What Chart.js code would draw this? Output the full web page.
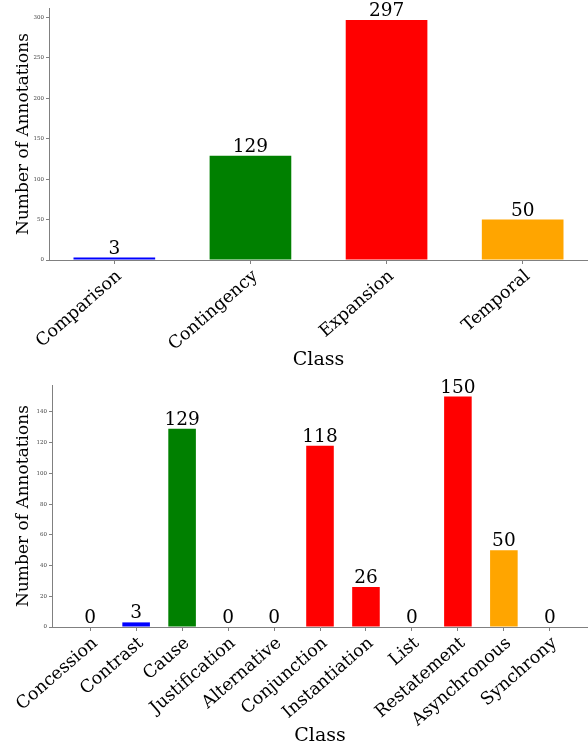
<!DOCTYPE html>
<html>
<head>
<meta charset="utf-8">
<script src="https://cdn.jsdelivr.net/npm/chart.js@4.4.0/dist/chart.umd.min.js"></script>
<style>
html, body { margin: 0; padding: 0; background: #fff; overflow: hidden; }
.box { position: relative; width: 588px; }
#top-box { height: 372px; }
#bottom-box { height: 375px; }
</style>
</head>
<body>
<div class="box" id="top-box"><canvas id="class-chart"></canvas></div>
<div class="box" id="bottom-box"><canvas id="sense-chart"></canvas></div>
<script>
// 上圖：四大類
var classLabels = ['Comparison', 'Contingency', 'Expansion', 'Temporal'];
var classCounts = [3, 129, 297, 50];
var classColors = ['#0000ff', '#008000', '#ff0000', '#ffa500'];
var classTicks = [0, 50, 100, 150, 200, 250, 300];

// 下圖：細分類
var senseLabels = ['Concession', 'Contrast', 'Cause', 'Justification', 'Alternative',
  'Conjunction', 'Instantiation', 'List', 'Restatement', 'Asynchronous', 'Synchrony'];
var senseCounts = [0, 3, 129, 0, 0, 118, 26, 0, 150, 50, 0];
var senseColors = ['#0000ff', '#0000ff', '#008000', '#008000', '#ff0000',
  '#ff0000', '#ff0000', '#ff0000', '#ff0000', '#ffa500', '#ffa500'];
var senseTicks = [0, 20, 40, 60, 80, 100, 120, 140];

var SERIF = '"DejaVu Serif", serif';
var AXIS_GREY = '#808080';

// 柱子上方的數字
var barValueLabels = {
  id: 'barValueLabels',
  afterDatasetsDraw: function (chart) {
    var ctx = chart.ctx;
    chart.data.datasets.forEach(function (ds, di) {
      var meta = chart.getDatasetMeta(di);
      meta.data.forEach(function (bar, i) {
        ctx.save();
        ctx.font = '18.5px ' + SERIF;
        ctx.fillStyle = '#000';
        ctx.textAlign = 'center';
        ctx.textBaseline = 'alphabetic';
        ctx.fillText(String(ds.data[i].y), bar.x, bar.y - 4);
        ctx.restore();
      });
    });
  }
};

function makeBarChart(canvasId, labels, counts, colors, yTicks, sizes) {
  var n = labels.length;
  var span = (n - 1) + 0.6;
  var xMin = -0.3 - 0.05 * span;
  var xMax = (n - 1) + 0.3 + 0.05 * span;
  var yMax = Math.max.apply(null, counts) * 1.05;

  var ctx = document.getElementById(canvasId).getContext('2d');
  return new Chart(ctx, {
    type: 'bar',
    data: {
      datasets: [{
        data: counts.map(function (v, i) { return { x: i, y: v }; }),
        backgroundColor: colors,
        borderWidth: 0,
        barPercentage: 0.6,
        categoryPercentage: 1.0
      }]
    },
    options: {
      responsive: true,
      maintainAspectRatio: false,
      animation: false,
      layout: { padding: { top: sizes.top, left: 0, right: 0, bottom: 0 } },
      plugins: {
        legend: { display: false },
        tooltip: { enabled: false }
      },
      scales: {
        x: {
          type: 'linear',
          offset: false,
          min: xMin,
          max: xMax,
          grid: { display: true, offset: false, drawOnChartArea: false, drawTicks: true, tickLength: 4, color: AXIS_GREY },
          border: { display: true, color: AXIS_GREY, width: 1 },
          afterBuildTicks: function (s) {
            s.ticks = labels.map(function (l, i) { return { value: i }; });
          },
          afterFit: function (s) { s.height = sizes.xHeight; },
          ticks: {
            autoSkip: false,
            minRotation: 41,
            maxRotation: 41,
            padding: 2,
            labelOffset: 5,
            color: '#000',
            font: { family: SERIF, size: 17.5 },
            callback: function (v) { return labels[v]; }
          },
          title: {
            display: true,
            text: 'Class',
            color: '#000',
            font: { family: SERIF, size: 19 },
            padding: { top: 0, bottom: sizes.titlePad }
          }
        },
        y: {
          min: 0,
          max: yMax,
          grid: { display: true, drawOnChartArea: false, drawTicks: true, tickLength: 3, color: AXIS_GREY },
          border: { display: true, color: AXIS_GREY, width: 1 },
          afterBuildTicks: function (s) {
            s.ticks = yTicks.map(function (v) { return { value: v }; });
          },
          afterFit: function (s) { s.width = sizes.yWidth; },
          ticks: {
            padding: 2,
            color: '#444',
            font: { family: SERIF, size: 5.5 }
          },
          title: {
            display: true,
            text: 'Number of Annotations',
            color: '#000',
            font: { family: SERIF, size: 17 },
            padding: { top: 13, bottom: 0 }
          }
        }
      }
    },
    plugins: [barValueLabels]
  });
}

makeBarChart('class-chart', classLabels, classCounts, classColors, classTicks,
  { top: 8, xHeight: 112, yWidth: 49, titlePad: 1 });
makeBarChart('sense-chart', senseLabels, senseCounts, senseColors, senseTicks,
  { top: 13, xHeight: 120, yWidth: 52, titlePad: 0 });
</script>
</body>
</html>
